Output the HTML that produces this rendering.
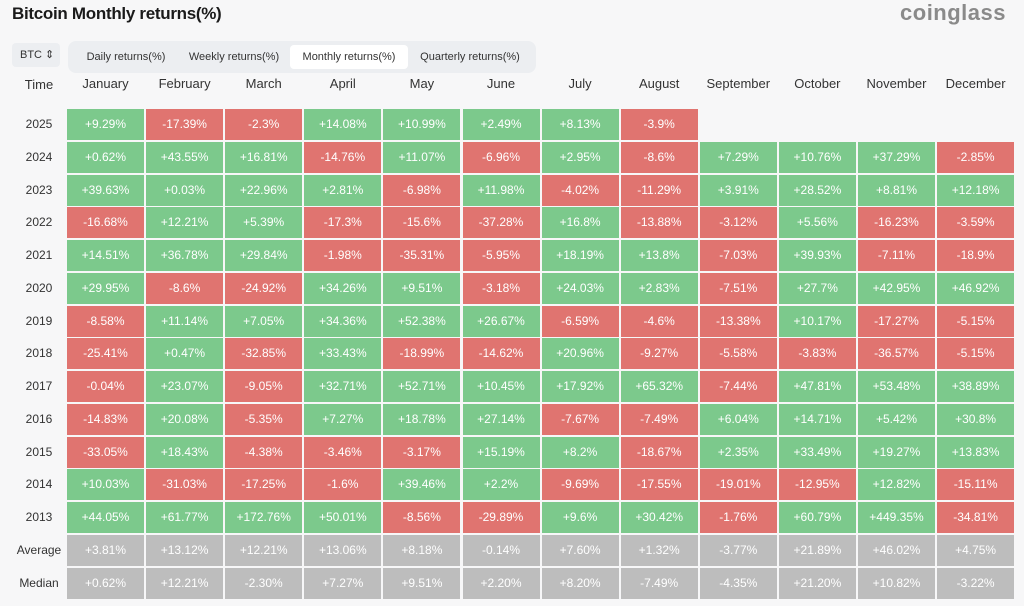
<!DOCTYPE html>
<html><head><meta charset="utf-8"><style>
body{margin:0;width:1024px;height:606px;background:#f7f7f8;font-family:"Liberation Sans",sans-serif;position:relative;overflow:hidden}
.t{position:absolute;left:12px;top:4px;font-size:17px;font-weight:bold;color:#1a1a1a;letter-spacing:-0.3px}
.logo{position:absolute;right:18px;top:0px;font-size:22px;font-weight:bold;color:#8a8a8a;letter-spacing:0.5px}
.btc{position:absolute;left:12px;top:43px;width:48px;height:24px;background:#eceef1;border-radius:4px;font-size:11px;color:#333;line-height:24px;text-indent:8px}
.tabs{position:absolute;left:68px;top:41px;width:468px;height:32px;background:#eceef1;border-radius:8px}
.tab{position:absolute;top:4px;height:24px;line-height:24px;font-size:11px;color:#333;text-align:center}
.tab.a{background:#fff;border-radius:4px}
.c{position:absolute;height:31px;line-height:31px;text-align:center;color:#fff;font-size:12px;width:77px}
.g{background:#7cc98c}.r{background:#e07470}.n{background:#bdbdbd}
.h{position:absolute;font-size:13px;color:#333;text-align:center;width:77px;top:76px}
.y{position:absolute;left:10px;width:58px;text-align:center;font-size:12px;color:#333;height:31px;line-height:31px}
</style></head><body>
<div class="t">Bitcoin Monthly returns(%)</div>
<div class="logo">coinglass</div>
<div class="btc">BTC ⇕</div>
<div class="tabs">
<div class="tab" style="left:6px;width:104px">Daily returns(%)</div>
<div class="tab" style="left:110px;width:112px">Weekly returns(%)</div>
<div class="tab a" style="left:222px;width:118px">Monthly returns(%)</div>
<div class="tab" style="left:340px;width:124px">Quarterly returns(%)</div>
</div>
<div id="g"></div>
<script>
var months=["January","February","March","April","May","June","July","August","September","October","November","December"];
var rows=[["2025","+9.29%","-17.39%","-2.3%","+14.08%","+10.99%","+2.49%","+8.13%","-3.9%"],
["2024","+0.62%","+43.55%","+16.81%","-14.76%","+11.07%","-6.96%","+2.95%","-8.6%","+7.29%","+10.76%","+37.29%","-2.85%"],
["2023","+39.63%","+0.03%","+22.96%","+2.81%","-6.98%","+11.98%","-4.02%","-11.29%","+3.91%","+28.52%","+8.81%","+12.18%"],
["2022","-16.68%","+12.21%","+5.39%","-17.3%","-15.6%","-37.28%","+16.8%","-13.88%","-3.12%","+5.56%","-16.23%","-3.59%"],
["2021","+14.51%","+36.78%","+29.84%","-1.98%","-35.31%","-5.95%","+18.19%","+13.8%","-7.03%","+39.93%","-7.11%","-18.9%"],
["2020","+29.95%","-8.6%","-24.92%","+34.26%","+9.51%","-3.18%","+24.03%","+2.83%","-7.51%","+27.7%","+42.95%","+46.92%"],
["2019","-8.58%","+11.14%","+7.05%","+34.36%","+52.38%","+26.67%","-6.59%","-4.6%","-13.38%","+10.17%","-17.27%","-5.15%"],
["2018","-25.41%","+0.47%","-32.85%","+33.43%","-18.99%","-14.62%","+20.96%","-9.27%","-5.58%","-3.83%","-36.57%","-5.15%"],
["2017","-0.04%","+23.07%","-9.05%","+32.71%","+52.71%","+10.45%","+17.92%","+65.32%","-7.44%","+47.81%","+53.48%","+38.89%"],
["2016","-14.83%","+20.08%","-5.35%","+7.27%","+18.78%","+27.14%","-7.67%","-7.49%","+6.04%","+14.71%","+5.42%","+30.8%"],
["2015","-33.05%","+18.43%","-4.38%","-3.46%","-3.17%","+15.19%","+8.2%","-18.67%","+2.35%","+33.49%","+19.27%","+13.83%"],
["2014","+10.03%","-31.03%","-17.25%","-1.6%","+39.46%","+2.2%","-9.69%","-17.55%","-19.01%","-12.95%","+12.82%","-15.11%"],
["2013","+44.05%","+61.77%","+172.76%","+50.01%","-8.56%","-29.89%","+9.6%","+30.42%","-1.76%","+60.79%","+449.35%","-34.81%"],
["Average","+3.81%","+13.12%","+12.21%","+13.06%","+8.18%","-0.14%","+7.60%","+1.32%","-3.77%","+21.89%","+46.02%","+4.75%"],
["Median","+0.62%","+12.21%","-2.30%","+7.27%","+9.51%","+2.20%","+8.20%","-7.49%","-4.35%","+21.20%","+10.82%","-3.22%"]];
var h='<div class="y" style="top:69px;font-size:13px">Time</div>';
for(var i=0;i<12;i++)h+='<div class="h" style="left:'+(67+i*79.1)+'px">'+months[i]+'</div>';
rows.forEach(function(r,j){var top=109+j*32.75;
h+='<div class="y" style="top:'+top+'px">'+r[0]+'</div>';
for(var i=1;i<r.length;i++){var cls=j>=13?'n':(r[i][0]=='-'?'r':'g');
h+='<div class="c '+cls+'" style="left:'+(67+(i-1)*79.1)+'px;top:'+top+'px">'+r[i]+'</div>';}});
document.getElementById('g').innerHTML=h;
</script>
</body></html>
